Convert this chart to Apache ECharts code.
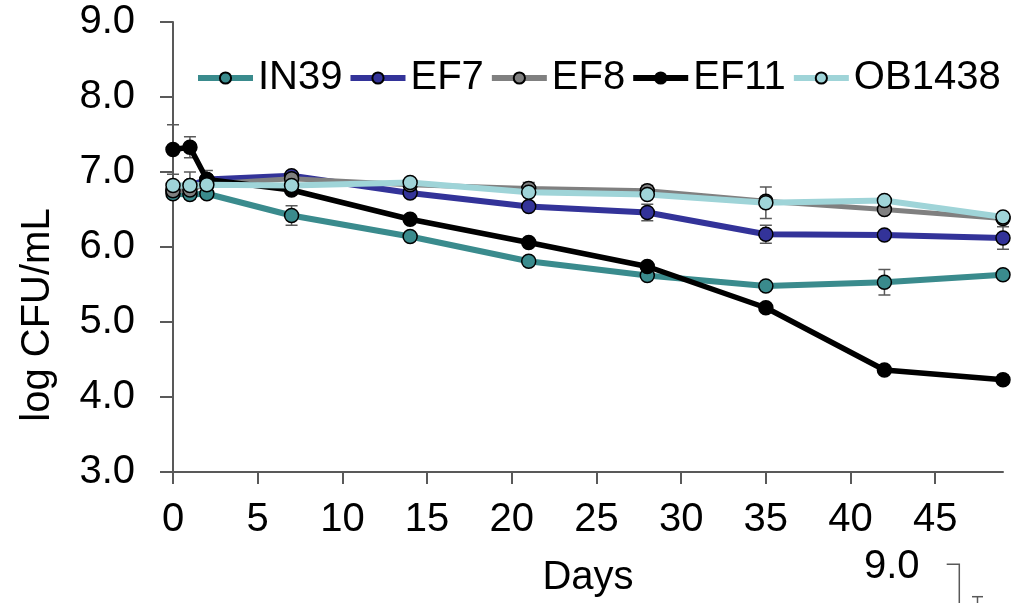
<!DOCTYPE html>
<html>
<head>
<meta charset="utf-8">
<script src="https://cdn.jsdelivr.net/npm/echarts@6/dist/echarts.min.js"></script>
<style>html,body{margin:0;padding:0;background:#fff}#c{width:1019px;height:603px}</style>
</head>
<body>
<div id="c"></div>
<script>
const days = [0, 1, 2, 7, 14, 21, 28, 35, 42, 49];
const xTicks = [0, 5, 10, 15, 20, 25, 30, 35, 40, 45];
const seriesNames = ['IN39', 'EF7', 'EF8', 'EF11', 'OB1438'];
const IN39 = [6.71, 6.70, 6.71, 6.42, 6.14, 5.81, 5.62, 5.48, 5.53, 5.63];
const EF7 = [6.76, 6.82, 6.90, 6.95, 6.72, 6.54, 6.46, 6.17, 6.16, 6.12];
const EF8 = [6.75, 6.76, 6.84, 6.91, 6.83, 6.78, 6.75, 6.61, 6.50, 6.38];
const EF11 = [7.30, 7.33, 6.90, 6.76, 6.37, 6.06, 5.74, 5.19, 4.36, 4.23];
const OB1438 = [6.82, 6.82, 6.83, 6.82, 6.86, 6.73, 6.70, 6.59, 6.62, 6.40];
const errIN39 = [0.04, 0.04, 0.04, 0.13, 0.04, 0.04, 0.04, 0.04, 0.17, 0.04];
const errEF7 = [0.04, 0.18, 0.04, 0.05, 0.04, 0.04, 0.11, 0.12, 0.04, 0.15];
const errEF8 = [0.04, 0.04, 0.04, 0.04, 0.04, 0.08, 0.07, 0.04, 0.04, 0.04];
const errEF11 = [0.33, 0.14, 0.12, 0.04, 0.04, 0.04, 0.04, 0.04, 0.04, 0.06];
const errOB1438 = [0.04, 0.04, 0.04, 0.04, 0.04, 0.04, 0.04, 0.21, 0.04, 0.04];

const values = [IN39, EF7, EF8, EF11, OB1438];
const errs = [errIN39, errEF7, errEF8, errEF11, errOB1438];
const colors = ['#3a8b8d', '#333399', '#808080', '#000000', '#9fd4d8'];
const widths = [6, 6, 5, 5.5, 6];
const FONT = "'Liberation Sans', Arial, sans-serif";
const AX = '#595959';

const errData = [];
values.forEach((vals, i) => {
  vals.forEach((v, j) => {
    errData.push([days[j], v - errs[i][j], v + errs[i][j]]);
  });
});

function renderErr(params, api) {
  const x = api.value(0);
  const pLo = api.coord([x, api.value(1)]);
  const pHi = api.coord([x, api.value(2)]);
  const w = 6;
  const st = { stroke: AX, lineWidth: 1.5 };
  return {
    type: 'group',
    children: [
      { type: 'line', shape: { x1: pHi[0], y1: pHi[1], x2: pLo[0], y2: pLo[1] }, style: st },
      { type: 'line', shape: { x1: pHi[0] - w, y1: pHi[1], x2: pHi[0] + w, y2: pHi[1] }, style: st },
      { type: 'line', shape: { x1: pLo[0] - w, y1: pLo[1], x2: pLo[0] + w, y2: pLo[1] }, style: st }
    ]
  };
}

const lineSeries = seriesNames.map((name, i) => ({
  name: name,
  type: 'line',
  data: days.map((d, j) => [d, values[i][j]]),
  symbol: 'circle',
  symbolSize: 14,
  showAllSymbol: true,
  color: colors[i],
  lineStyle: { color: colors[i], width: widths[i] },
  itemStyle: { color: colors[i], borderColor: '#000', borderWidth: 1.5 },
  z: 3 + i,
  animation: false,
  clip: false
}));

const chart = echarts.init(document.getElementById('c'), null, { renderer: 'canvas' });
chart.setOption({
  animation: false,
  backgroundColor: '#fff',
  textStyle: { fontFamily: FONT },
  grid: { left: 173, right: 16, top: 22, bottom: 130 },
  legend: {
    data: seriesNames,
    left: 190,
    top: 53,
    itemWidth: 55,
    itemHeight: 14,
    itemGap: 5,
    lineStyle: { width: 6 },
    textStyle: { fontSize: 40, color: '#000', fontFamily: FONT }
  },
  xAxis: {
    type: 'value',
    min: 0,
    max: 49,
    interval: 5,
    name: 'Days',
    nameLocation: 'middle',
    nameGap: 86,
    nameTextStyle: { fontSize: 40, color: '#000', fontFamily: FONT },
    axisLine: { show: true, lineStyle: { color: AX, width: 2 } },
    axisTick: { show: true, length: 12, lineStyle: { color: AX, width: 2 }, customValues: xTicks },
    axisLabel: { fontSize: 40, color: '#000', margin: 28, fontFamily: FONT, customValues: xTicks },
    splitLine: { show: false }
  },
  yAxis: {
    type: 'value',
    min: 3,
    max: 9,
    interval: 1,
    name: 'log CFU/mL',
    nameLocation: 'middle',
    nameGap: 115,
    nameTextStyle: { fontSize: 40, color: '#000', fontFamily: FONT, padding: [0, 136, 0, 0] },
    axisLine: { show: true, lineStyle: { color: AX, width: 2 } },
    axisTick: { show: true, length: 13, lineStyle: { color: AX, width: 2 } },
    axisLabel: { fontSize: 40, color: '#000', margin: 38, fontFamily: FONT, formatter: v => v.toFixed(1) },
    splitLine: { show: false }
  },
  graphic: [
    { type: 'text', left: 864, top: 547, style: { text: '9.0', fontSize: 40, fill: '#000', fontFamily: FONT } },
    { type: 'polyline', shape: { points: [[946.7, 564.3], [959.3, 564.3], [959.3, 603]] }, style: { stroke: AX, lineWidth: 1.5, fill: null } },
    { type: 'line', shape: { x1: 972, y1: 596.7, x2: 983, y2: 596.7 }, style: { stroke: AX, lineWidth: 1.5 } },
    { type: 'line', shape: { x1: 977.5, y1: 596.7, x2: 977.5, y2: 603 }, style: { stroke: AX, lineWidth: 1.5 } }
  ],
  series: [
    {
      name: 'err',
      type: 'custom',
      renderItem: renderErr,
      data: errData,
      encode: { x: 0, y: [1, 2] },
      z: 2,
      clip: false,
      silent: true
    }
  ].concat(lineSeries)
});
</script>
</body>
</html>
